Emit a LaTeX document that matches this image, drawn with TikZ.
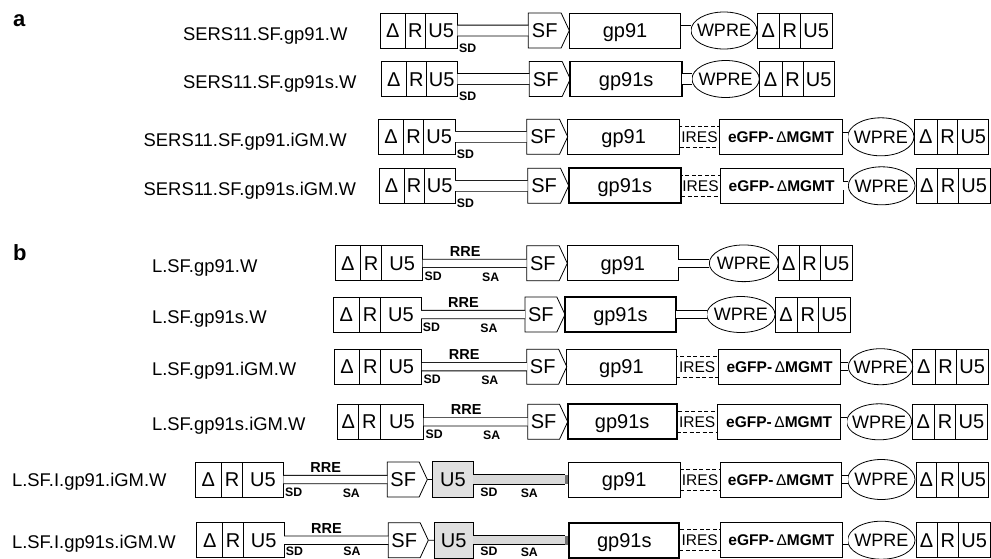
\documentclass[tikz,border=0pt]{standalone}
\usepackage{fontspec}
\setmainfont{Liberation Sans}
\usepackage{tikz}
\usetikzlibrary{shapes.geometric, shapes.symbols, positioning}

\newcommand{\boxfont}{\fontsize{20}{22}\selectfont}
\newcommand{\wprefont}{\fontsize{18}{20}\selectfont}
\newcommand{\iresfont}{\fontsize{15.5}{17}\selectfont}
\newcommand{\egfpfont}{\fontsize{15.5}{17}\selectfont\bfseries}
\newcommand{\rrefont}{\fontsize{14.5}{16}\selectfont\bfseries}
\newcommand{\sitefont}{\fontsize{12.3}{14}\selectfont\bfseries}
\newcommand{\vecfont}{\fontsize{18.4}{20}\selectfont}
\newcommand{\panelfont}{\fontsize{22}{24}\selectfont\bfseries}

\begin{document}
\begin{tikzpicture}[x=1pt, y=-1pt, line width=0.8pt]
    \tikzstyle{cell} = [rectangle, draw, minimum height=35pt, inner sep=0pt, outer sep=0pt, text height=14.3pt, text depth=0pt, font=\boxfont]
    \tikzstyle{gene} = [cell, minimum width=111pt]
    \tikzstyle{genes} = [gene, line width=1.8pt]
    \tikzstyle{sfbox} = [signal, signal to=east, signal pointer angle=130, draw, minimum width=41pt, minimum height=35pt, inner sep=0pt, outer sep=0pt, text height=14.3pt, text depth=0pt, font=\boxfont]
    \tikzstyle{wpre} = [ellipse, draw, minimum width=66pt, minimum height=38pt, inner xsep=-7pt, inner ysep=0pt, outer sep=0pt, text height=12.9pt, text depth=0pt, font=\wprefont]
    \tikzstyle{ires} = [rectangle, draw, dash pattern=on 4pt off 2.5pt, line width=1pt, minimum height=21pt, inner sep=0pt, outer sep=0pt, text height=11.1pt, text depth=0pt, font=\iresfont]
    \tikzstyle{egfp} = [cell, minimum width=123pt, text height=11.1pt, font=\egfpfont]
    \tikzstyle{grayu} = [cell, fill=black!12, minimum width=40pt, minimum height=36pt]
    \tikzstyle{endcap} = [rectangle, fill=black!55, minimum width=3pt, minimum height=9pt, inner sep=0pt, outer sep=0pt]
    \tikzstyle{dbl} = [draw, double, double distance=10pt]
    \tikzstyle{dblb} = [draw, double, double distance=7.5pt]
    \tikzstyle{band} = [draw, double=black!15, double distance=8.5pt]
    \tikzstyle{site} = [inner sep=0pt, font=\sitefont]
    \tikzstyle{rre} = [inner sep=0pt, font=\rrefont]
    \tikzstyle{vlabel} = [anchor=base west, inner sep=0pt, font=\vecfont]
    \tikzstyle{panel} = [anchor=base west, inner sep=0pt, font=\panelfont]

    \useasboundingbox (0,0) rectangle (991,558);

    \node [panel] (pa) at (12.7,26) {a};
    \node [panel] (pb) at (12.7,260.5) {b};

    % a1
    \node [vlabel] (na1) at (182.7,40) {SERS11.SF.gp91.W};
    \node [cell, minimum width=25.7pt, anchor=west] (da1) at (380,30.5) {Δ};
    \node [cell, minimum width=19.3pt, right=0pt of da1] (ra1) {R};
    \node [cell, minimum width=32.3pt, right=0pt of ra1] (ua1) {U5};
    \node [sfbox, right=71pt of ua1] (sfa1) {SF};
    \node [gene, minimum width=111.4pt, right=0pt of sfa1] (ga1) {gp91};
    \node [wpre, minimum height=37pt, right=10.3pt of ga1] (wa1) {WPRE};
    \node [cell, minimum width=22.6pt, right=0pt of wa1] (dra1) {Δ};
    \node [cell, minimum width=20.7pt, right=0pt of dra1] (rra1) {R};
    \node [cell, minimum width=31.7pt, right=0pt of rra1] (ura1) {U5};
    \path [dbl] (ua1) -- (sfa1);
    \path [dbl] (ga1) -- (wa1);
    \node [site, anchor=west] (sda1) at ([xshift=1.5pt]ua1.south east) {SD};

    % a2
    \node [vlabel] (na2) at (182.7,88.3) {SERS11.SF.gp91s.W};
    \node [cell, minimum width=25.7pt, anchor=west] (da2) at (381,79) {Δ};
    \node [cell, minimum width=19.3pt, right=0pt of da2] (ra2) {R};
    \node [cell, minimum width=31.3pt, right=0pt of ra2] (ua2) {U5};
    \node [sfbox, right=72pt of ua2] (sfa2) {SF};
    \node [genes, minimum width=111.7pt, right=0pt of sfa2] (ga2) {gp91s};
    \node [wpre, minimum width=67.3pt, minimum height=37pt, right=10pt of ga2] (wa2) {WPRE};
    \node [cell, minimum width=22.7pt, right=0pt of wa2] (dra2) {Δ};
    \node [cell, minimum width=21pt, right=0pt of dra2] (rra2) {R};
    \node [cell, minimum width=31.3pt, right=0pt of rra2] (ura2) {U5};
    \path [dbl] (ua2) -- (sfa2);
    \path [dbl] (ga2) -- (wa2);
    \node [site, anchor=west] (sda2) at ([xshift=1.5pt]ua2.south east) {SD};

    % a3
    \node [vlabel] (na3) at (143.3,146.7) {SERS11.SF.gp91.iGM.W};
    \node [cell, minimum width=25pt, anchor=west] (da3) at (378.5,136.8) {Δ};
    \node [cell, minimum width=20pt, right=0pt of da3] (ra3) {R};
    \node [cell, minimum width=31.5pt, right=0pt of ra3] (ua3) {U5};
    \node [sfbox, right=71.7pt of ua3] (sfa3) {SF};
    \node [gene, minimum width=112pt, right=0pt of sfa3] (ga3) {gp91};
    \node [ires, minimum width=39.6pt, right=0pt of ga3] (ia3) {IRES};
    \node [egfp, minimum width=123.4pt, right=0pt of ia3] (ea3) {eGFP-\,{\mdseries Δ}MGMT};
    \node [wpre, minimum width=66.3pt, right=5pt of ea3] (wa3) {WPRE};
    \node [cell, minimum width=22.7pt, right=0.5pt of wa3] (dra3) {Δ};
    \node [cell, minimum width=20.6pt, right=0pt of dra3] (rra3) {R};
    \node [cell, minimum width=31pt, right=0pt of rra3] (ura3) {U5};
    \path [dbl] (ua3) -- (sfa3);
    \path [dblb] (ea3) -- (wa3);
    \node [site, anchor=west] (sda3) at ([xshift=1.5pt]ua3.south east) {SD};

    % a4
    \node [vlabel] (na4) at (143.3,195) {SERS11.SF.gp91s.iGM.W};
    \node [cell, minimum width=25pt, anchor=west] (da4) at (379,185.8) {Δ};
    \node [cell, minimum width=20.3pt, right=0pt of da4] (ra4) {R};
    \node [cell, minimum width=30.7pt, right=0pt of ra4] (ua4) {U5};
    \node [sfbox, right=72.7pt of ua4] (sfa4) {SF};
    \node [genes, minimum width=112.3pt, right=0pt of sfa4] (ga4) {gp91s};
    \node [ires, minimum width=39pt, right=0pt of ga4] (ia4) {IRES};
    \node [egfp, minimum width=123.3pt, right=0pt of ia4] (ea4) {eGFP-\,{\mdseries Δ}MGMT};
    \node [wpre, minimum width=66.7pt, right=5pt of ea4] (wa4) {WPRE};
    \node [cell, minimum width=21.7pt, right=1pt of wa4] (dra4) {Δ};
    \node [cell, minimum width=20.6pt, right=0pt of dra4] (rra4) {R};
    \node [cell, minimum width=31.7pt, right=0pt of rra4] (ura4) {U5};
    \path [dbl] (ua4) -- (sfa4);
    \path [dblb] (ea4) -- (wa4);
    \node [site, anchor=west] (sda4) at ([xshift=1.5pt]ua4.south east) {SD};

    % b1
    \node [vlabel] (nb1) at (151.7,272.7) {L.SF.gp91.W};
    \node [cell, minimum width=25.7pt, anchor=west] (db1) at (335,263.3) {Δ};
    \node [cell, minimum width=21pt, right=0pt of db1] (rb1) {R};
    \node [cell, minimum width=41pt, right=0pt of rb1] (ub1) {U5};
    \node [sfbox, minimum width=40.6pt, right=104pt of ub1] (sfb1) {SF};
    \node [gene, minimum width=111pt, right=0pt of sfb1] (gb1) {gp91};
    \node [wpre, minimum width=69pt, minimum height=36.7pt, right=31pt of gb1] (wb1) {WPRE};
    \node [cell, minimum width=21pt, right=0pt of wb1] (drb1) {Δ};
    \node [cell, minimum width=20.7pt, right=0pt of drb1] (rrb1) {R};
    \node [cell, minimum width=32.7pt, right=0pt of rrb1] (urb1) {U5};
    \path [dblb] (ub1) -- (sfb1);
    \path [dblb] (gb1) -- (wb1);
    \node [rre] (reb1) at ([xshift=42.5pt,yshift=12pt]ub1.east) {RRE};
    \node [site, anchor=west] (sdb1) at ([xshift=1.5pt,yshift=5pt]ub1.south east) {SD};
    \node [site] (sab1) at ([xshift=68pt,yshift=4pt]ub1.south east) {SA};

    % b2
    \node [vlabel] (nb2) at (151.7,323.3) {L.SF.gp91s.W};
    \node [cell, minimum width=26pt, anchor=west] (db2) at (333.3,314.5) {Δ};
    \node [cell, minimum width=21.4pt, right=0pt of db2] (rb2) {R};
    \node [cell, minimum width=40.3pt, right=0pt of rb2] (ub2) {U5};
    \node [sfbox, minimum width=40pt, right=104pt of ub2] (sfb2) {SF};
    \node [genes, minimum width=111pt, right=0pt of sfb2] (gb2) {gp91s};
    \node [wpre, minimum width=68.3pt, minimum height=36pt, right=30.7pt of gb2] (wb2) {WPRE};
    \node [cell, minimum width=22.3pt, right=0pt of wb2] (drb2) {Δ};
    \node [cell, minimum width=21pt, right=0pt of drb2] (rrb2) {R};
    \node [cell, minimum width=31.7pt, right=0pt of rrb2] (urb2) {U5};
    \path [dblb] (ub2) -- (sfb2);
    \path [dblb] (gb2) -- (wb2);
    \node [rre] (reb2) at ([xshift=42.5pt,yshift=12pt]ub2.east) {RRE};
    \node [site, anchor=west] (sdb2) at ([xshift=1.5pt,yshift=5pt]ub2.south east) {SD};
    \node [site] (sab2) at ([xshift=68pt,yshift=4pt]ub2.south east) {SA};

    % b3
    \node [vlabel] (nb3) at (151.7,375) {L.SF.gp91.iGM.W};
    \node [cell, minimum width=25.5pt, anchor=west] (db3) at (334.3,366.7) {Δ};
    \node [cell, minimum width=21pt, right=0pt of db3] (rb3) {R};
    \node [cell, minimum width=41pt, right=0pt of rb3] (ub3) {U5};
    \node [sfbox, minimum width=40pt, right=105pt of ub3] (sfb3) {SF};
    \node [gene, minimum width=109.2pt, right=0pt of sfb3] (gb3) {gp91};
    \node [ires, minimum width=42.3pt, right=0pt of gb3] (ib3) {IRES};
    \node [egfp, minimum width=122.4pt, right=0pt of ib3] (eb3) {eGFP-\,{\mdseries Δ}MGMT};
    \node [wpre, minimum width=64.4pt, minimum height=36pt, right=7.6pt of eb3] (wb3) {WPRE};
    \node [cell, minimum width=22.3pt, right=0pt of wb3] (drb3) {Δ};
    \node [cell, minimum width=21pt, right=0pt of drb3] (rrb3) {R};
    \node [cell, minimum width=32.3pt, right=0pt of rrb3] (urb3) {U5};
    \path [dblb] (ub3) -- (sfb3);
    \path [dblb] (eb3) -- (wb3);
    \node [rre] (reb3) at ([xshift=42.5pt,yshift=12pt]ub3.east) {RRE};
    \node [site, anchor=west] (sdb3) at ([xshift=1.5pt,yshift=5pt]ub3.south east) {SD};
    \node [site] (sab3) at ([xshift=68pt,yshift=4pt]ub3.south east) {SA};

    % b4
    \node [vlabel] (nb4) at (151.7,430) {L.SF.gp91s.iGM.W};
    \node [cell, minimum width=21pt, anchor=west] (db4) at (337.7,421.8) {Δ};
    \node [cell, minimum width=21.5pt, right=0pt of db4] (rb4) {R};
    \node [cell, minimum width=43.5pt, right=0pt of rb4] (ub4) {U5};
    \node [sfbox, minimum width=40pt, right=104pt of ub4] (sfb4) {SF};
    \node [genes, minimum width=109pt, right=0pt of sfb4] (gb4) {gp91s};
    \node [ires, minimum width=41pt, right=0pt of gb4] (ib4) {IRES};
    \node [egfp, minimum width=123pt, right=0pt of ib4] (eb4) {eGFP-\,{\mdseries Δ}MGMT};
    \node [wpre, minimum width=65pt, minimum height=36pt, right=6pt of eb4] (wb4) {WPRE};
    \node [cell, minimum width=22.3pt, right=0.5pt of wb4] (drb4) {Δ};
    \node [cell, minimum width=21pt, right=0pt of drb4] (rrb4) {R};
    \node [cell, minimum width=32pt, right=0pt of rrb4] (urb4) {U5};
    \path [dblb] (ub4) -- (sfb4);
    \path [dblb] (eb4) -- (wb4);
    \node [rre] (reb4) at ([xshift=42.5pt,yshift=12pt]ub4.east) {RRE};
    \node [site, anchor=west] (sdb4) at ([xshift=1.5pt,yshift=5pt]ub4.south east) {SD};
    \node [site] (sab4) at ([xshift=68pt,yshift=4pt]ub4.south east) {SA};

    % b5
    \node [vlabel] (nb5) at (11.7,486.7) {L.SF.I.gp91.iGM.W};
    \node [cell, minimum width=26.7pt, anchor=west] (db5) at (195,479.5) {Δ};
    \node [cell, minimum width=21pt, right=0pt of db5] (rb5) {R};
    \node [cell, minimum width=40.6pt, right=0pt of rb5] (ub5) {U5};
    \node [sfbox, minimum width=40pt, right=104pt of ub5] (sfb5) {SF};
    \node [grayu, minimum width=40.6pt, right=5.4pt of sfb5] (gub5) {U5};
    \node [gene, minimum width=111.7pt, right=95pt of gub5] (gb5) {gp91};
    \node [endcap, left=0pt of gb5] (cpb5) {};
    \node [ires, minimum width=40pt, right=0pt of gb5] (ib5) {IRES};
    \node [egfp, minimum width=121.7pt, right=0pt of ib5] (eb5) {eGFP-\,{\mdseries Δ}MGMT};
    \node [wpre, minimum width=67.3pt, minimum height=40pt, right=6pt of eb5] (wb5) {WPRE};
    \node [cell, minimum width=20.7pt, right=1pt of wb5] (drb5) {Δ};
    \node [cell, minimum width=21.6pt, right=0pt of drb5] (rrb5) {R};
    \node [cell, minimum width=30pt, right=0pt of rrb5] (urb5) {U5};
    \path [dblb] (ub5) -- (sfb5);
    \draw (sfb5) -- (gub5);
    \path [band] (gub5) -- (cpb5);
    \path [dblb] (eb5) -- (wb5);
    \node [rre] (reb5) at ([xshift=42.5pt,yshift=12pt]ub5.east) {RRE};
    \node [site, anchor=west] (sdb5) at ([xshift=1.5pt,yshift=5pt]ub5.south east) {SD};
    \node [site] (sab5) at ([xshift=68pt,yshift=4pt]ub5.south east) {SA};
    \node [site, anchor=west] (sdib5) at ([xshift=6.7pt,yshift=5pt]gub5.south east) {SD};
    \node [site] (saib5) at ([xshift=56pt,yshift=4pt]gub5.south east) {SA};

    % b6
    \node [vlabel] (nb6) at (11.7,548.3) {L.SF.I.gp91s.iGM.W};
    \node [cell, minimum width=26pt, anchor=west] (db6) at (196.7,540.2) {Δ};
    \node [cell, minimum width=20.6pt, right=0pt of db6] (rb6) {R};
    \node [cell, minimum width=40.7pt, right=0pt of rb6] (ub6) {U5};
    \node [sfbox, minimum width=40pt, right=104.3pt of ub6] (sfb6) {SF};
    \node [grayu, minimum width=39.3pt, right=5.7pt of sfb6] (gub6) {U5};
    \node [genes, minimum width=110pt, right=96pt of gub6] (gb6) {gp91s};
    \node [endcap, left=0.9pt of gb6] (cpb6) {};
    \node [ires, minimum width=40.7pt, right=0pt of gb6] (ib6) {IRES};
    \node [egfp, minimum width=122.7pt, right=0pt of ib6] (eb6) {eGFP-\,{\mdseries Δ}MGMT};
    \node [wpre, minimum width=67.3pt, right=5pt of eb6] (wb6) {WPRE};
    \node [cell, minimum width=21.3pt, right=1pt of wb6] (drb6) {Δ};
    \node [cell, minimum width=21pt, right=0pt of drb6] (rrb6) {R};
    \node [cell, minimum width=31.7pt, right=0pt of rrb6] (urb6) {U5};
    \path [dblb] (ub6) -- (sfb6);
    \draw (sfb6) -- (gub6);
    \path [band] (gub6) -- (cpb6);
    \path [dblb] (eb6) -- (wb6);
    \node [rre] (reb6) at ([xshift=42.5pt,yshift=12pt]ub6.east) {RRE};
    \node [site, anchor=west] (sdb6) at ([xshift=1.5pt,yshift=6.5pt]ub6.south east) {SD};
    \node [site] (sab6) at ([xshift=68pt,yshift=6pt]ub6.south east) {SA};
    \node [site, anchor=west] (sdib6) at ([xshift=6.7pt,yshift=6.5pt]gub6.south east) {SD};
    \node [site] (saib6) at ([xshift=56pt,yshift=6pt]gub6.south east) {SA};
\end{tikzpicture}
\end{document}
